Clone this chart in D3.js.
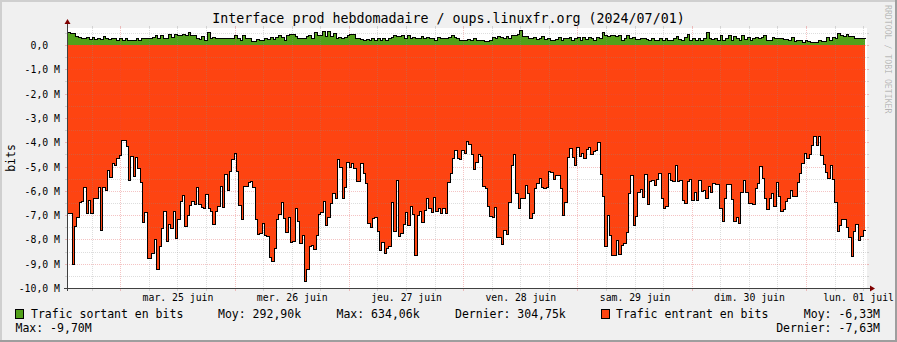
<!DOCTYPE html>
<html><head><meta charset="utf-8">
<script src="https://cdn.jsdelivr.net/npm/d3@7"></script>
<style>
html,body{margin:0;padding:0;background:#f0f0f0;}
svg{display:block;}
text{font-family:"DejaVu Sans Mono",monospace;fill:#000;}
</style>
</head><body>
<script>
const title = "Interface prod hebdomadaire / oups.linuxfr.org (2024/07/01)";
const yAxisTitle = "bits";
const watermark = "RRDTOOL / TOBI OETIKER";
const dayLabels = ["mar. 25 juin","mer. 26 juin","jeu. 27 juin","ven. 28 juin","sam. 29 juin","dim. 30 juin","lun. 01 juil"];
const yTickValues = [0,-1,-2,-3,-4,-5,-6,-7,-8,-9,-10]; // millions of bits
const yTickLabels = ["0,0\u00a0\u00a0","-1,0 M","-2,0 M","-3,0 M","-4,0 M","-5,0 M","-6,0 M","-7,0 M","-8,0 M","-9,0 M","-10,0 M"];
const legendOut = ["Trafic sortant en bits","Moy: 292,90k","Max: 634,06k","Dernier: 304,75k"];
const legendIn = ["Trafic entrant en bits","Moy: -6,33M","Max: -9,70M","Dernier: -7,63M"];

// incoming traffic (M bits, drawn negative), 30-minute steps
const inTraffic = [
-6.93,-6.93,-9.03,-7.43,-7.06,-6.46,-6.43,-5.83,-6.93,-6.39,
-6.93,-6.31,-6.31,-5.86,-7.61,-5.86,-5.97,-5.16,-5.42,-4.84,
-4.92,-4.66,-4.53,-3.90,-3.90,-4.16,-5.56,-4.58,-5.39,-4.62,
-5.08,-5.62,-7.28,-6.87,-8.77,-8.77,-8.57,-7.97,-9.23,-8.29,
-7.52,-6.83,-8.07,-7.35,-7.54,-6.83,-7.96,-7.17,-6.41,-6.17,
-7.45,-7.01,-6.57,-6.42,-6.54,-5.83,-6.54,-6.68,-6.71,-6.13,
-6.71,-6.83,-7.38,-6.82,-6.64,-5.80,-6.65,-5.29,-5.97,-5.20,
-4.71,-4.46,-5.17,-6.60,-7.17,-5.79,-5.79,-5.65,-5.61,-5.86,
-7.17,-7.79,-7.75,-7.34,-7.81,-7.86,-8.74,-8.90,-8.35,-7.15,
-6.97,-6.46,-7.11,-7.68,-7.09,-8.12,-8.08,-6.69,-7.23,-8.16,
-7.83,-9.70,-9.23,-8.27,-8.23,-8.40,-7.83,-6.97,-6.87,-6.41,
-7.42,-7.09,
-6.49,-6.10,-6.31,-4.68,-5.03,-6.31,-5.83,-4.80,-5.01,-4.84,
-5.08,-5.60,-5.60,-4.84,-5.25,-5.67,-7.34,-7.50,-7.13,-7.06,
-7.65,-8.44,-8.09,-8.57,-8.37,-8.26,-6.45,-7.65,-5.56,-7.86,
-7.75,-7.37,-6.86,-7.39,-6.63,-6.97,-8.66,-7.00,-6.82,-7.30,
-6.79,-6.31,-6.69,-6.86,-6.24,-6.83,-6.72,-6.93,-6.69,-6.93,
-5.62,-5.25,-4.66,-4.32,-4.64,-4.69,-4.32,-4.46,-3.94,-4.07,
-4.49,-5.12,-4.83,-4.49,-4.55,-5.80,-5.90,-6.63,-7.04,-7.09,
-6.65,-7.91,-7.89,-8.20,-7.61,-7.78,-6.45,-4.94,-4.50,-6.08,
-6.72,-6.28,-6.31,-5.76,-6.08,-7.13,-6.90,-5.90,-5.69,-5.46,
-5.86,-5.90,-5.86,-5.17,-5.21,-5.53,-5.35,-5.35,-5.90,-7.00,
-6.45,-4.62,-4.25,-4.60,-4.94,-4.18,-4.57,-4.43,-4.66,-4.29,
-4.21,-4.49,-4.35,-4.32,-3.98,
-5.32,-6.20,-8.27,-6.98,-7.83,-8.64,-8.64,-8.02,-8.60,-8.24,
-8.16,-7.70,-6.08,-5.35,-7.41,-7.02,-6.04,-5.94,-6.27,-5.32,
-6.54,-5.58,-5.56,-5.76,-5.53,-5.28,-6.31,-6.71,-6.61,-5.28,
-5.56,-5.58,-4.94,-5.58,-5.56,-6.38,-6.52,-5.60,-5.53,-6.38,
-6.06,-6.38,-5.56,-5.99,-5.97,-6.28,-5.79,-6.04,-5.69,-5.72,
-5.72,-6.69,-7.24,-6.31,-5.72,-5.72,-6.34,-7.23,-7.09,-7.34,
-6.04,-5.56,-6.04,-6.52,-6.52,-6.54,-5.90,-5.69,-4.97,-5.49,
-6.31,-6.75,-6.28,-6.10,-6.63,-5.62,-6.21,-6.82,-6.76,-6.42,
-6.31,-5.97,-6.21,-6.21,-5.62,-5.25,-4.87,-4.46,-4.66,-4.49,
-4.10,-3.73,-4.12,-3.73,-4.53,-4.90,-5.21,-5.49,-4.94,-5.53,
-6.45,-7.65,-7.41,-7.15,-7.17,-7.48,-7.91,-8.69,-7.64,-7.37,
-8.02,-7.86,-7.63
];

// outgoing traffic (k bits)
const outTraffic = [
520,490,490,355,315,275,275,330,245,345,
245,300,245,370,275,245,300,300,220,275,
190,275,190,190,190,275,190,300,275,275,
275,330,410,275,410,300,300,450,330,440,
410,410,465,410,520,410,410,300,245,355,
220,550,275,345,275,275,300,300,300,275,
275,410,300,220,410,275,275,165,165,245,
190,190,300,245,330,245,330,410,345,220,
410,440,440,355,275,275,275,355,410,275,
550,410,410,590,370,575,355,490,275,330,
275,330,410,440,440,
275,275,245,190,245,190,275,190,300,220,
300,220,275,330,410,385,385,410,300,410,
275,330,275,275,385,275,330,275,275,220,
330,275,275,275,330,410,330,275,220,220,
190,245,190,275,190,220,220,165,165,220,
330,275,355,330,275,355,275,410,410,465,
605,355,355,300,275,330,245,300,355,245,
300,190,190,245,330,220,275,275,330,220,
275,330,220,330,245,330,300,220,330,
300,520,410,355,410,410,385,410,220,275,
410,275,330,245,245,275,275,245,190,300,
220,220,275,220,275,190,220,275,355,245,
220,330,440,220,275,190,300,220,275,520,
275,245,275,190,410,220,275,410,220,385,
275,220,410,245,330,220,275,330,275,330,
410,220,220,330,275,275,275,245,245,220,
330,165,220,190,135,190,165,110,110,110,
190,165,165,330,220,330,275,490,410,385,
465,355,355,275,275,275,275
];

const W = 897, H = 342;
const L = 67, R = 867, T = 28, B = 288;
const viewStart = Date.UTC(2024,5,24,12,48);
const viewEnd = Date.UTC(2024,6,1,12,48);
const dataStart = viewStart;
const dataEnd = Date.UTC(2024,6,1,12,21);

const C = {
  back:"#f0f0f0", canvas:"#ffffff", shadeA:"#cfcfcf", shadeB:"#9e9e9e",
  grid:"rgba(143,143,143,0.30)", mgrid:"rgba(222,80,80,0.34)",
  arrow:"#7f0000", axis:"#404040", green:"#52a01a", red:"#fe4411"
};

const svg = d3.select("body").append("svg").attr("width",W).attr("height",H);
svg.append("rect").attr("width",W).attr("height",H).attr("fill",C.back);
// frame shading
svg.append("rect").attr("x",0).attr("y",0).attr("width",W).attr("height",2).attr("fill",C.shadeA);
svg.append("rect").attr("x",0).attr("y",0).attr("width",2).attr("height",H).attr("fill",C.shadeA);
svg.append("rect").attr("x",0).attr("y",H-2).attr("width",W).attr("height",2).attr("fill",C.shadeB);
svg.append("rect").attr("x",W-2).attr("y",0).attr("width",2).attr("height",H).attr("fill",C.shadeB);

const x = d3.scaleUtc().domain([viewStart, viewEnd]).range([L, R]);
const y = d3.scaleLinear().domain([-10e6, 0.7e6]).range([B, T]);

svg.append("rect").attr("x",L).attr("y",T).attr("width",R-L).attr("height",B-T).attr("fill",C.canvas);

function series(arr, mult){
  const n = arr.length, dt = (dataEnd - dataStart)/n;
  const pts = arr.map((v,i)=>({t:dataStart+i*dt, v:v*mult}));
  pts.push({t:dataEnd, v:arr[n-1]*mult});
  return pts;
}
const inPts = series(inTraffic, 1e6);
const outPts = series(outTraffic, 1e3);

const px = d=>Math.round(x(d.t));
const py = d=>Math.round(y(d.v)) + 0.5;
const area = d3.area().curve(d3.curveStepAfter).x(px).y0(y(0)).y1(d=>Math.round(y(d.v))+0.5);
const line = d3.line().curve(d3.curveStepAfter).x(d=>px(d)+0.5).y(py);

svg.append("path").attr("d",area(outPts)).attr("fill",C.green).attr("shape-rendering","crispEdges");
svg.append("path").attr("d",area(inPts)).attr("fill",C.red).attr("shape-rendering","crispEdges");

// grid
const g = svg.append("g").attr("shape-rendering","crispEdges");
const hVals = d3.range(-20, 2).map(k=>k*0.5e6).filter(v=>v>=-10e6 && v<=0.7e6);
hVals.forEach(v=>{
  const major = Math.abs(v % 1e6) < 1;
  const yy = Math.round(y(v)) + 0.5;
  const col = major ? C.mgrid : C.grid;
  g.append("line").attr("x1",L).attr("x2",R).attr("y1",yy).attr("y2",yy)
    .attr("stroke",col).attr("stroke-dasharray","1,1");
  g.append("line").attr("x1",L-2).attr("x2",L).attr("y1",yy).attr("y2",yy).attr("stroke",col);
  g.append("line").attr("x1",R).attr("x2",R+2).attr("y1",yy).attr("y2",yy).attr("stroke",col);
});
const vVals = d3.utcHour.every(6).range(viewStart, viewEnd);
vVals.forEach(t=>{
  const major = new Date(t).getUTCHours() === 0;
  const xx = Math.round(x(t)) + 0.5;
  const col = major ? C.mgrid : C.grid;
  g.append("line").attr("x1",xx).attr("x2",xx).attr("y1",T).attr("y2",B)
    .attr("stroke",col).attr("stroke-dasharray","1,1");
  g.append("line").attr("x1",xx).attr("x2",xx).attr("y1",B).attr("y2",B+3).attr("stroke",col);
  g.append("line").attr("x1",xx).attr("x2",xx).attr("y1",T-2).attr("y2",T).attr("stroke",col);
});

// data outlines
svg.append("path").attr("d",line(outPts)).attr("fill","none").attr("stroke","#000").attr("stroke-width",1).attr("shape-rendering","crispEdges");
svg.append("path").attr("d",line(inPts)).attr("fill","none").attr("stroke","#000").attr("stroke-width",1).attr("shape-rendering","crispEdges");

// axes lines and arrows
svg.append("line").attr("x1",L-3).attr("x2",R+3).attr("y1",B+0.5).attr("y2",B+0.5).attr("stroke",C.axis).attr("shape-rendering","crispEdges");
svg.append("line").attr("x1",L+0.5).attr("x2",L+0.5).attr("y1",B+3).attr("y2",T-4).attr("stroke",C.axis).attr("shape-rendering","crispEdges");
svg.append("path").attr("d",`M${R+3},${B-2.5}L${R+8},${B+0.5}L${R+3},${B+3.5}Z`).attr("fill",C.arrow);
svg.append("path").attr("d",`M${L-2.5},${T-4}L${L+0.5},${T-9}L${L+3.5},${T-4}Z`).attr("fill",C.arrow);

// y axis labels
const yAxis = d3.axisLeft(y).tickValues(yTickValues.map(v=>v*1e6))
  .tickFormat((d,i)=>yTickLabels[i]).tickSize(0).tickPadding(7);
const ya = svg.append("g").attr("transform",`translate(${L},0)`).call(yAxis);
ya.select(".domain").remove();
ya.selectAll("text").attr("font-family","DejaVu Sans Mono").attr("font-size","9.8px").attr("fill","#000").attr("dy","0.36em");

// x axis labels at noon
const noons = d3.utcDay.range(Date.UTC(2024,5,25), Date.UTC(2024,6,2)).map(d=>new Date(+d + 12*3600e3));
const xAxis = d3.axisBottom(x).tickValues(noons).tickFormat((d,i)=>dayLabels[i]).tickSize(0).tickPadding(6);
const xa = svg.append("g").attr("transform",`translate(0,${B})`).call(xAxis);
xa.select(".domain").remove();
xa.selectAll("text").attr("font-family","DejaVu Sans Mono").attr("font-size","9.8px").attr("fill","#000");
// keep the last label inside the canvas
xa.selectAll(".tick").filter((d,i,n)=>i===n.length-1).each(function(){
  const tx = this.querySelector("text");
  const bb = tx.getBBox();
  const tr = this.transform.baseVal.consolidate().matrix.e;
  const over = tr + bb.x + bb.width - (W - 3);
  if (over > 0) d3.select(tx).attr("dx", -over);
});

// title
svg.append("text").attr("x",W/2).attr("y",23).attr("text-anchor","middle")
  .attr("font-size","13.3px").text(title);
// y axis title
svg.append("text").attr("transform","translate(15,158) rotate(-90)").attr("text-anchor","middle")
  .attr("font-size","11.5px").text(yAxisTitle);
// watermark
svg.append("text").attr("transform","translate(885,5) rotate(90)").attr("font-size","8.2px")
  .style("fill","rgba(0,0,0,0.25)").text(watermark);

// legend
const lf = "11.5px";
const lg = svg.append("g").attr("font-size",lf);
lg.append("rect").attr("x",15.5).attr("y",309.5).attr("width",8).attr("height",9).attr("fill",C.green).attr("stroke","#000");
lg.append("text").attr("x",31).attr("y",318).text(legendOut[0]);
lg.append("text").attr("x",218).attr("y",318).text(legendOut[1]);
lg.append("text").attr("x",336.5).attr("y",318).text(legendOut[2]);
lg.append("text").attr("x",455).attr("y",318).text(legendOut[3]);
lg.append("rect").attr("x",601.5).attr("y",309.5).attr("width",8).attr("height",9).attr("fill",C.red).attr("stroke","#000");
lg.append("text").attr("x",616).attr("y",318).text(legendIn[0]);
lg.append("text").attr("x",880).attr("y",318).attr("text-anchor","end").text(legendIn[1]);
lg.append("text").attr("x",15.5).attr("y",332).text(legendIn[2]);
lg.append("text").attr("x",880).attr("y",332).attr("text-anchor","end").text(legendIn[3]);
</script>
</body></html>
